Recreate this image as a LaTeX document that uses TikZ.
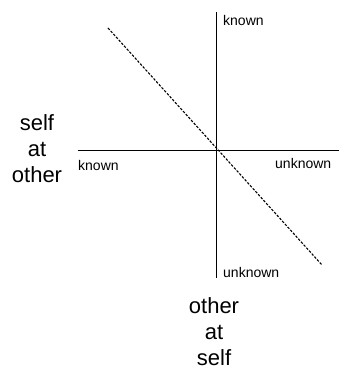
\documentclass[tikz,border=0pt]{standalone}
\usepackage{fontspec}
\setmainfont{Liberation Sans}
\begin{document}
\begin{tikzpicture}[x=1pt,y=-1pt,
  axis/.style={line width=0.8pt},
  diag/.style={line width=1.1pt,dash pattern=on 2.5pt off 1.5pt},
  small/.style={font=\fontsize{14}{17}\selectfont,inner sep=0pt},
  big/.style={font=\fontsize{22}{26}\selectfont,align=center,inner sep=0pt}]
\useasboundingbox (0,0) rectangle (340,374);
\coordinate (vt) at (216,12);
\coordinate (vb) at (216,278);
\coordinate (hl) at (78,150);
\coordinate (hr) at (339,150);
\coordinate (ds) at (108,28);
\coordinate (de) at (322,265);
\draw[axis] (vt) -- (vb);
\draw[axis] (hl) -- (hr);
\draw[diag] (ds) -- (de);
\node[small,anchor=base west] (kt) at (223,26) {known};
\node[small,anchor=base west] (kl) at (78,170) {known};
\node[small,anchor=base west] (ur) at (275,168) {unknown};
\node[small,anchor=base west] (ub) at (223,277) {unknown};
\node[big] (sao) at (37,149) {self\\at\\other};
\node[big] (oas) at (214,332) {other\\at\\self};
\end{tikzpicture}
\end{document}
